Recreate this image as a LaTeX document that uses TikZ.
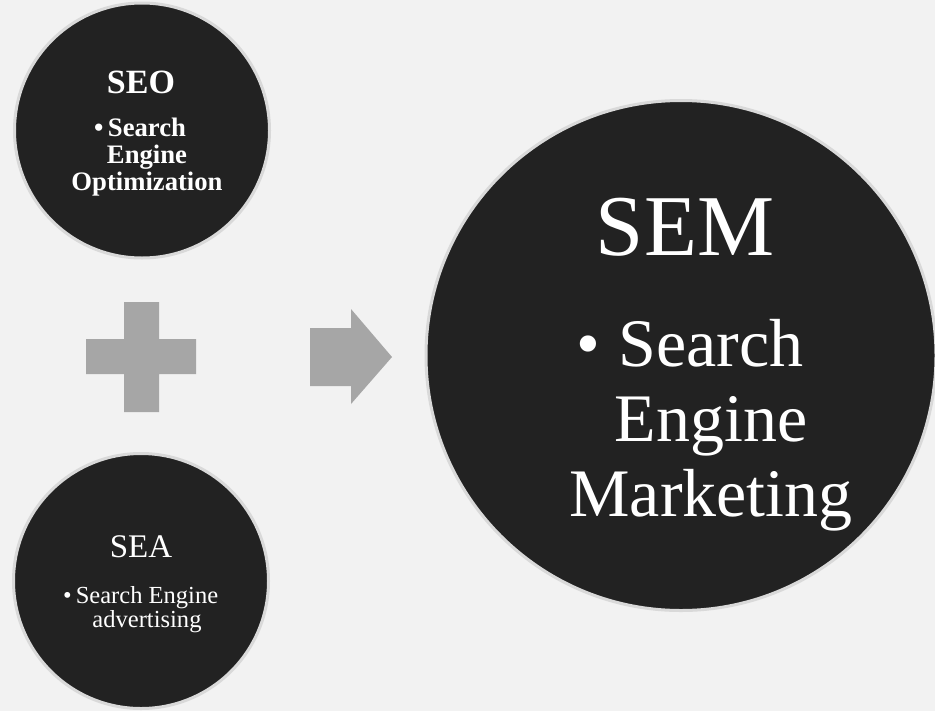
\documentclass[tikz,border=0pt]{standalone}
\usepackage{fontspec}
\setmainfont{Liberation Serif}
\usepackage{tikz}

\definecolor{bubblefill}{RGB}{34,34,34}
\definecolor{bubbleedge}{RGB}{217,217,217}
\definecolor{signgray}{RGB}{166,166,166}
\definecolor{slidebg}{RGB}{242,242,242}

\begin{document}
\begin{tikzpicture}[x=0.75pt,y=0.75pt,yscale=-1,xscale=1,
  bubble/.style={circle,fill=bubblefill,draw=bubbleedge,line width=2.25pt,inner sep=0pt},
  bubbletext/.style={anchor=base,inner sep=0pt,align=center,text=white}]
%set diagram size: 935 x 711
\fill [slidebg] (0,0) rectangle (935,711) ;
\useasboundingbox (0,0) rectangle (935,711) ;

%Shape: Circle (SEO)
\node [bubble,minimum size=191.25pt] (seo) at (142,130.5) {} ;
%Shape: Circle (SEA)
\node [bubble,minimum size=191.25pt] (sea) at (141,581) {} ;
%Shape: Circle (SEM)
\node [bubble,minimum size=382.5pt] (sem) at (681,355.5) {} ;

%Shape: Cross
\fill [signgray] (124,302) -- (159,302) -- (159,339) -- (196,339) -- (196,374) -- (159,374) -- (159,412) -- (124,412) -- (124,374) -- (86,374) -- (86,339) -- (124,339) -- cycle ;
%Shape: Right Arrow
\fill [signgray] (310,328) -- (351,328) -- (351,309) -- (392,357) -- (351,404) -- (351,386) -- (310,386) -- cycle ;

% Text Node (base = last line)
\node [bubbletext,font=\bfseries\fontsize{25.5}{30}\selectfont] (seotitle) at (141,93) {SEO} ;
% Text Node
\node [bubbletext,font=\bfseries\fontsize{20}{20.25}\selectfont] (seobody) at (147,190) {\llap{\textbullet\,}Search\\Engine\\Optimization} ;
% Text Node
\node [bubbletext,font=\fontsize{24.75}{30}\selectfont] (seatitle) at (141,557) {SEA} ;
% Text Node
\node [bubbletext,font=\fontsize{18.4}{18}\selectfont] (seabody) at (147,627) {\llap{\textbullet\,}Search Engine\\advertising} ;
% Text Node
\node [bubbletext,font=\fontsize{65}{70}\selectfont] (semtitle) at (685,255) {SEM} ;
% Text Node
\node [bubbletext,font=\fontsize{51}{56}\selectfont] (sembody) at (711,516) {\llap{\textbullet\hspace{14pt}}Search\\Engine\\Marketing} ;

\end{tikzpicture}
\end{document}
